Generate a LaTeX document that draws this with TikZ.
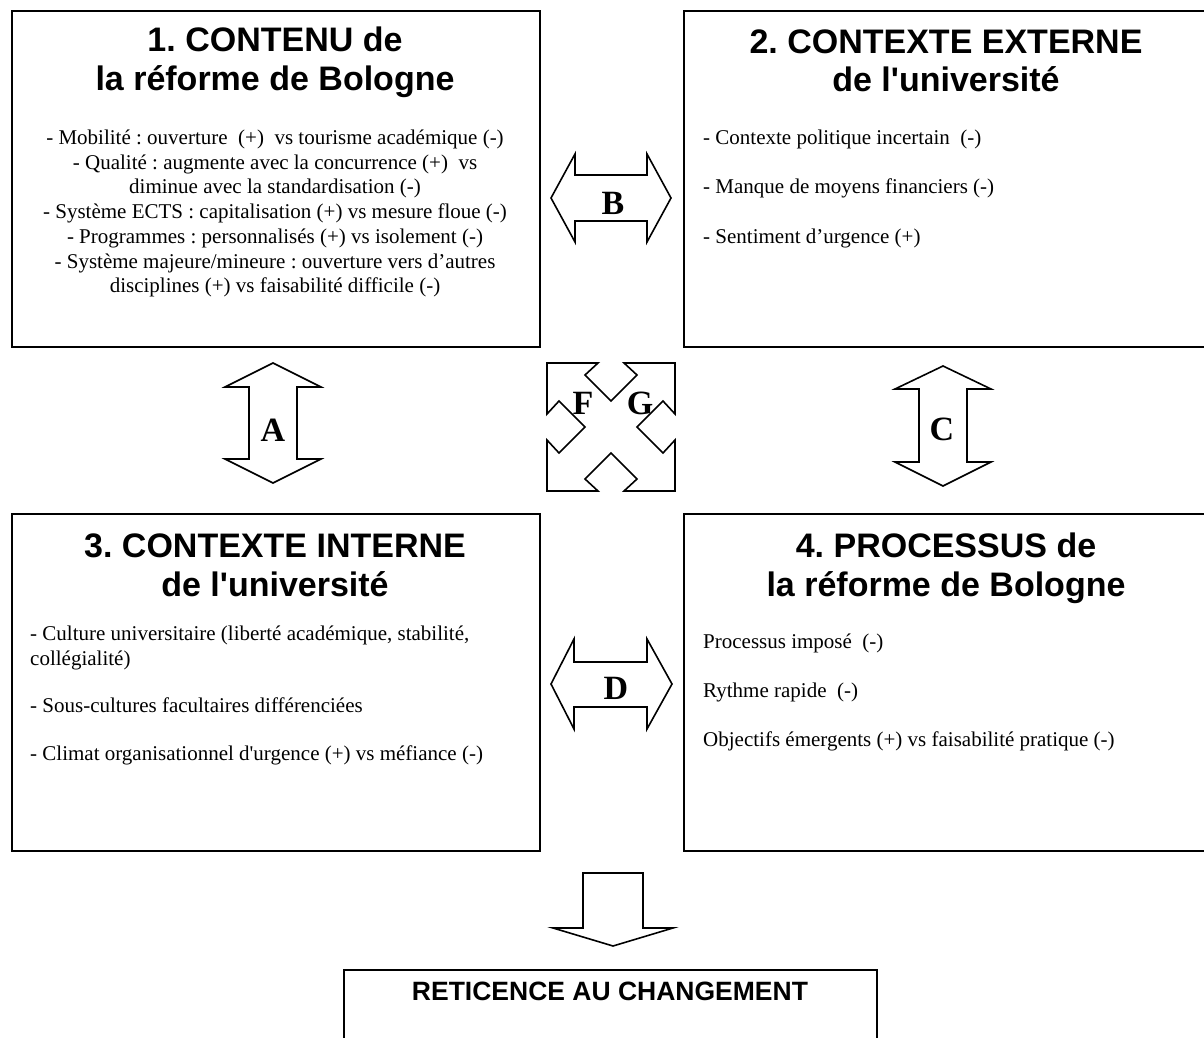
\documentclass[tikz,border=0pt]{standalone}
\usepackage{fontspec}
\newfontfamily\timesf{Liberation Serif}
\newfontfamily\arialf{Liberation Sans}
\frenchspacing
\tikzset{
  box/.style={draw, line width=2pt, anchor=north west, inner sep=0pt},
  ttl/.style={font=\arialf\bfseries\fontsize{34}{40}\selectfont, anchor=base, inner sep=0pt},
  bttl/.style={font=\arialf\bfseries\fontsize{26.5}{30}\selectfont, anchor=base, inner sep=0pt},
  bodyc/.style={font=\timesf\fontsize{21}{24.6}\selectfont, anchor=base, inner sep=0pt},
  bodyl/.style={font=\timesf\fontsize{21}{24.6}\selectfont, anchor=base west, inner sep=0pt},
  lbl/.style={font=\timesf\bfseries\fontsize{34}{34}\selectfont, inner sep=0pt},
  blk/.style={draw, line width=1.6pt, line join=miter, fill=white}
}
\begin{document}
\frenchspacing
\begin{tikzpicture}[x=1pt,y=-1pt]
\useasboundingbox (0,0) rectangle (1204,1038);
% boxes
\node[box, minimum width=528pt, minimum height=336pt] (b1) at (11,10) {};
\node[box, minimum width=526pt, minimum height=336pt] (b2) at (683,10) {};
\node[box, minimum width=528pt, minimum height=337pt] (b3) at (11,513) {};
\node[box, minimum width=526pt, minimum height=337pt] (b4) at (683,513) {};
\node[box, minimum width=533pt, minimum height=90pt] (b5) at (343,969) {};
% box 1
\node[ttl] (t1a) at (275,52) {1. CONTENU de};
\node[ttl] (t1b) at (275,91) {la réforme de Bologne};
\node[bodyc] (l11) at (275,144) {- Mobilité : ouverture~ (+)~ vs tourisme académique (-)};
\node[bodyc] (l12) at (275,169) {- Qualité : augmente avec la concurrence (+)~ vs};
\node[bodyc] (l13) at (275,193) {diminue avec la standardisation (-)};
\node[bodyc] (l14) at (275,218) {- Système ECTS : capitalisation (+) vs mesure floue (-)};
\node[bodyc] (l15) at (275,243) {- Programmes : personnalisés (+) vs isolement (-)};
\node[bodyc] (l16) at (275,268) {- Système majeure/mineure : ouverture vers d’autres};
\node[bodyc] (l17) at (275,292) {disciplines (+) vs faisabilité difficile (-)};
% box 2
\node[ttl] (t2a) at (946,54) {2. CONTEXTE EXTERNE};
\node[ttl] (t2b) at (946,92) {de l'université};
\node[bodyl] (l21) at (703,144) {- Contexte politique incertain~ (-)};
\node[bodyl] (l22) at (703,193) {- Manque de moyens financiers (-)};
\node[bodyl] (l23) at (703,243) {- Sentiment d’urgence (+)};
% box 3
\node[ttl] (t3a) at (275,557) {3. CONTEXTE INTERNE};
\node[ttl] (t3b) at (275,596) {de l'université};
\node[bodyl] (l31) at (30,640) {- Culture universitaire (liberté académique, stabilité,};
\node[bodyl] (l32) at (30,665) {collégialité)};
\node[bodyl] (l33) at (30,712) {- Sous-cultures facultaires différenciées};
\node[bodyl] (l34) at (30,760) {- Climat organisationnel d'urgence (+) vs méfiance (-)};
% box 4
\node[ttl] (t4a) at (946,557) {4. PROCESSUS de};
\node[ttl] (t4b) at (946,596) {la réforme de Bologne};
\node[bodyl] (l41) at (703,648) {Processus imposé~ (-)};
\node[bodyl] (l42) at (703,697) {Rythme rapide~ (-)};
\node[bodyl] (l43) at (703,746) {Objectifs émergents (+) vs faisabilité pratique (-)};
% bottom box
\node[bttl] (t5) at (610,1000) {RETICENCE AU CHANGEMENT};
% A arrow
\draw[blk] (273,363) -- (321,387) -- (297,387) -- (297,459) -- (321,459) -- (273,483)
  -- (225,459) -- (249,459) -- (249,387) -- (225,387) -- cycle;
\node[lbl] (la) at (273,430) {A};
% C arrow
\draw[blk] (943,366) -- (991,389) -- (967,389) -- (967,462) -- (991,462) -- (943,486)
  -- (895,462) -- (919,462) -- (919,389) -- (895,389) -- cycle;
\node[lbl] (lc) at (942,429) {C};
% B arrow
\draw[blk] (551,198) -- (575,154) -- (575,175) -- (647,175) -- (647,154) -- (671,198)
  -- (647,242) -- (647,221) -- (575,221) -- (575,242) -- cycle;
\node[lbl] (lb) at (613,203) {B};
% D arrow
\draw[blk] (551,684) -- (574,639) -- (574,662) -- (647,662) -- (647,639) -- (672,684)
  -- (647,729) -- (647,707) -- (574,707) -- (574,729) -- cycle;
\node[lbl] (ld) at (616,688) {D};
% F/G cross
\begin{scope}[shift={(611,427)}]
\draw[blk] (-64,-64) -- (-13,-64) -- (-26,-52) -- (0,-26) -- (26,-52) -- (13,-64) -- (64,-64)
  -- (64,-13) -- (52,-26) -- (26,0) -- (52,26) -- (64,13) -- (64,64)
  -- (13,64) -- (26,52) -- (0,26) -- (-26,52) -- (-13,64) -- (-64,64)
  -- (-64,13) -- (-52,26) -- (-26,0) -- (-52,-26) -- (-64,-13) -- cycle;
\end{scope}
\node[lbl] (lf) at (583,403) {F};
\node[lbl] (lg) at (640,403) {G};
% down arrow
\draw[blk] (583,873) -- (643,873) -- (643,928) -- (673,928) -- (613,946) -- (553,928) -- (583,928) -- cycle;
\end{tikzpicture}
\end{document}
